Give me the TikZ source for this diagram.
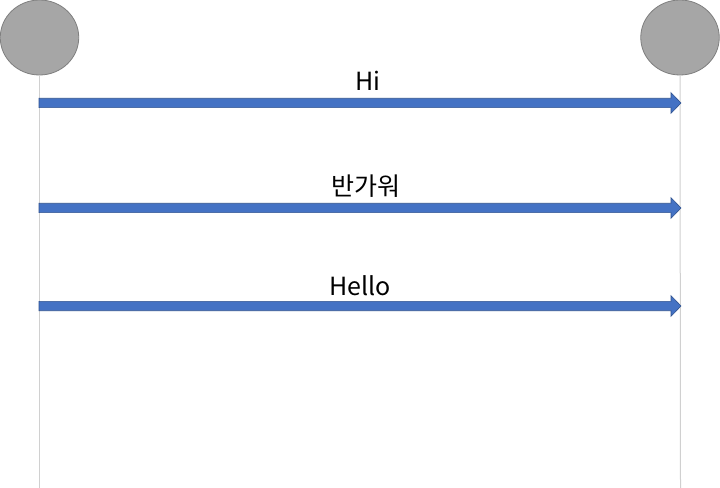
\documentclass[tikz,border=0pt]{standalone}
\usepackage{fontspec}
\setmainfont{Noto Sans CJK KR}
\usetikzlibrary{shapes.geometric,calc}
\definecolor{actorfill}{HTML}{A6A6A6}
\definecolor{actordraw}{HTML}{7F7F7F}
\definecolor{lifegray}{HTML}{D0D0D0}
\definecolor{msgfill}{HTML}{4472C4}
\definecolor{msgdraw}{HTML}{2F528F}
\tikzset{
  actor/.style={ellipse, draw=actordraw, fill=actorfill, line width=0.8bp, minimum width=78.5bp, minimum height=75bp, inner sep=0pt},
  lifeline/.style={draw=lifegray, line width=1bp},
  msgarrow/.style={fill=msgfill, draw=msgdraw, line width=0.6bp, line join=miter},
  msglabel/.style={font=\fontsize{25bp}{30bp}\selectfont, anchor=base, inner sep=0pt, text=black}
}
\newcommand\drawmsg[2]{%
  \path[msgarrow] ($(#1)+(0,-4.7)$) -- ($(#2)+(-10,-4.7)$) -- ($(#2)+(-10,-10.3)$) -- (#2)
    -- ($(#2)+(-10,10.3)$) -- ($(#2)+(-10,4.7)$) -- ($(#1)+(0,4.7)$) -- cycle;}
\begin{document}
\begin{tikzpicture}[x=1bp,y=-1bp]
\useasboundingbox (0,0) rectangle (720,488);
\fill[white] (0,0) rectangle (720,488);
\coordinate (aend) at (39.5,488);
\coordinate (bend) at (680.5,488);
\node[actor] (a) at (39.5,37.5) {};
\node[actor] (b) at (680,37.5) {};
\draw[lifeline] (a.south) -- (aend);
\draw[lifeline] (b.south) -- (bend);
\coordinate (s1) at (39,103); \coordinate (e1) at (681,103);
\coordinate (s2) at (39,208); \coordinate (e2) at (681,208);
\coordinate (s3) at (39,306); \coordinate (e3) at (681,306);
\drawmsg{s1}{e1}
\drawmsg{s2}{e2}
\drawmsg{s3}{e3}
\node[msglabel] (l1) at (368,91) {Hi};
\node[msglabel] (l2) at (366,196) {반가워};
\node[msglabel] (l3) at (360,295) {Hello};
\end{tikzpicture}
\end{document}
